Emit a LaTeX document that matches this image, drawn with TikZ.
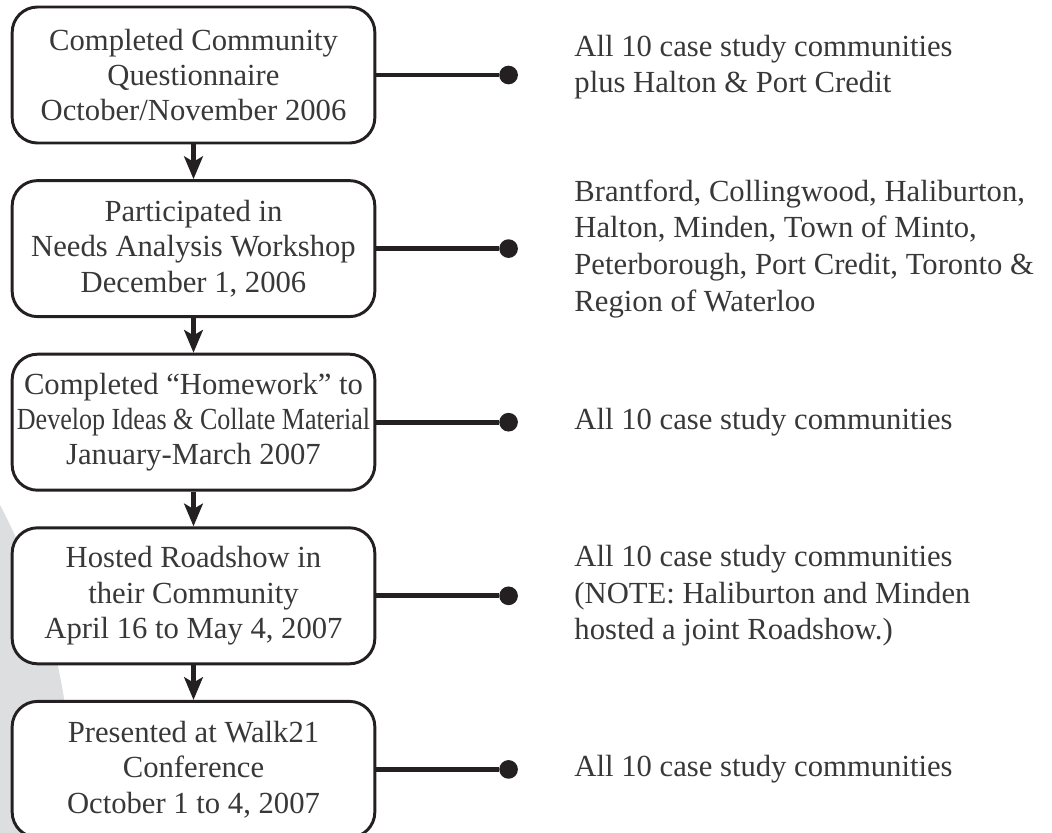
\documentclass[tikz,border=0pt]{standalone}
\usepackage{fontspec}
\setmainfont{Liberation Serif}
\usetikzlibrary{positioning,arrows.meta,backgrounds}
\definecolor{ink}{rgb}{0.14,0.12,0.13}
\definecolor{txt}{rgb}{0.22,0.22,0.22}
\definecolor{discgray}{HTML}{DDDEE0}

\begin{document}
\begin{tikzpicture}[
  x=0.75pt, y=-0.75pt,
  stage/.style = {
    draw = ink,
    line width = 2.2pt,
    rectangle,
    rounded corners = 19pt,
    fill = white,
    text = txt,
    align = center,
    font = \fontsize{23}{26.5}\selectfont,
    minimum width = 272pt,
    minimum height = 102pt,
    inner sep = 2pt,
  },
  dot/.style = {
    circle,
    fill = ink,
    inner sep = 0pt,
    minimum size = 14pt,
  },
  note/.style = {
    text = txt,
    align = left,
    inner sep = 0pt,
    font = \fontsize{23}{27.5}\selectfont,
  },
  link/.style = {
    draw = ink,
    line width = 3.6pt,
  },
  >={Stealth[length=17pt,width=14pt,inset=4pt]},
]

  \useasboundingbox (0,0) rectangle (1052,832);

  % grey disc behind the left column
  \begin{scope}
    \clip (0,0) rectangle (1052,832);
    \fill[discgray] (-568,800) circle[radius=480pt];
  \end{scope}

  \node[stage] (s0) at (193.5,75) {Completed Community\\Questionnaire\\October/November 2006};
  \node[stage] (s1) [below=26pt of s0] {Participated in\\Needs Analysis Workshop\\December 1, 2006};
  \node[stage] (s2) [below=26pt of s1] {Completed “Homework” to\\\scalebox{0.85}[1]{Develop Ideas \& Collate Material}\\January-March 2007};
  \node[stage] (s3) [below=26pt of s2] {Hosted Roadshow in\\their Community\\April 16 to May 4, 2007};
  \node[stage] (s4) [below=26pt of s3] {Presented at Walk21\\Conference\\October 1 to 4, 2007};

  \node[dot] (d0) [right=92pt of s0] {};
  \node[dot] (d1) [right=92pt of s1] {};
  \node[dot] (d2) [right=92pt of s2] {};
  \node[dot] (d3) [right=92pt of s3] {};
  \node[dot] (d4) [right=92pt of s4] {};

  \node[note,yshift=6pt] (t0) [right=42pt of d0] {All 10 case study communities\\plus Halton \& Port Credit};
  \node[note] (t1) [right=42pt of d1] {Brantford, Collingwood, Haliburton,\\Halton, Minden, Town of Minto,\\Peterborough, Port Credit, Toronto \&\\Region of Waterloo};
  \node[note] (t2) [right=42pt of d2] {All 10 case study communities};
  \node[note] (t3) [right=42pt of d3] {All 10 case study communities\\(NOTE: Haliburton and Minden\\hosted a joint Roadshow.)};
  \node[note] (t4) [right=42pt of d4] {All 10 case study communities};

  \path[link] (s0) -- (d0);
  \path[link] (s1) -- (d1);
  \path[link] (s2) -- (d2);
  \path[link] (s3) -- (d3);
  \path[link] (s4) -- (d4);

  \path[link,->] (s0) -- (s1);
  \path[link,->] (s1) -- (s2);
  \path[link,->] (s2) -- (s3);
  \path[link,->] (s3) -- (s4);

\end{tikzpicture}
\end{document}
